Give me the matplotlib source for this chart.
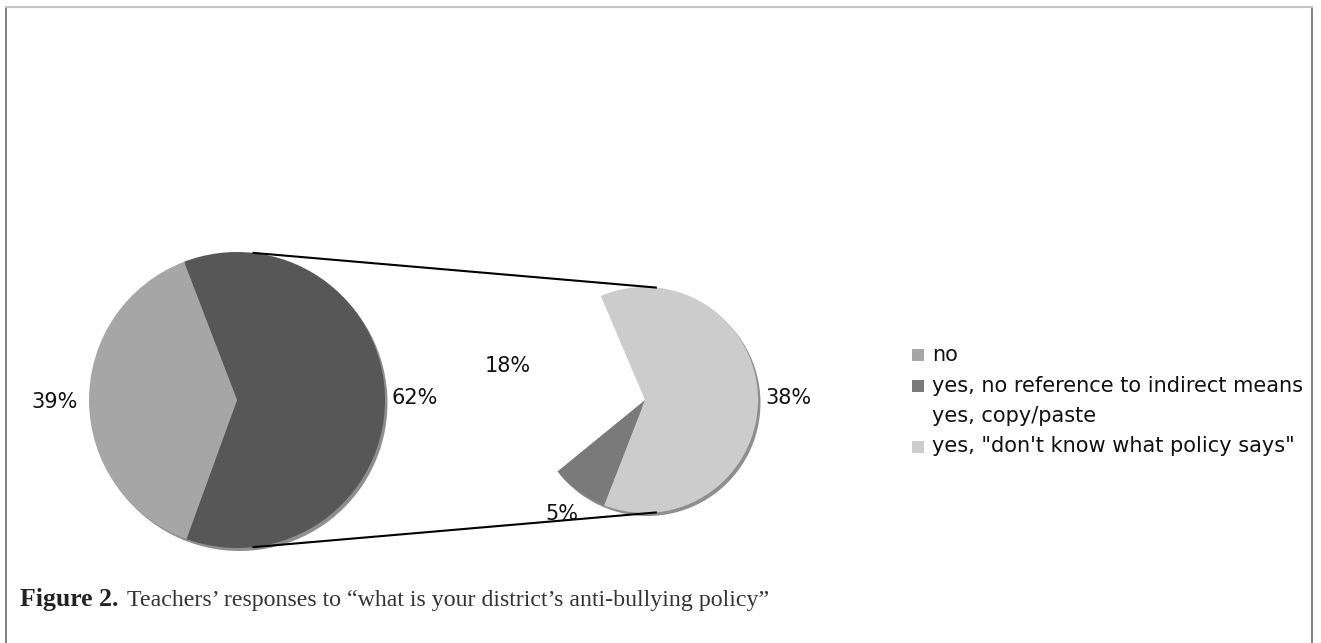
import numpy as np
import matplotlib.pyplot as plt
from matplotlib.patches import Rectangle

# overall answers: "yes" split further in the second pie
main_labels = ["yes", "no"]
main_values = [62, 39]
main_colors = ["#575757", "#a6a6a6"]

# breakdown of the "yes" answers
sub_labels = ["yes, \"don't know what policy says\"", "yes, no reference to indirect means", "yes, copy/paste"]
sub_values = [38, 5, 18]
sub_colors = ["#cccccc", "#7a7a7a", "none"]

legend_labels = ["no", "yes, no reference to indirect means", "yes, copy/paste",
                 "yes, \"don't know what policy says\""]
legend_colors = ["#a6a6a6", "#7a7a7a", "none", "#cccccc"]

caption_bold = "Figure 2."
caption_text = "Teachers\u2019 responses to \u201cwhat is your district\u2019s anti-bullying policy\u201d"

W, H = 1321, 643
fig = plt.figure(figsize=(W / 100, H / 100), dpi=100)
ax = fig.add_axes([0, 0, 1, 1])

left_c, left_r = (237, 243), 148
right_c, right_r = (645, 243), 113
shadow = "#8e8e8e"


def draw_pie(values, colors, center, radius, start, label_dist):
    # drop shadow slightly to the lower right
    sh_colors = [shadow if c != "none" else "none" for c in colors]
    ax.pie(values, colors=sh_colors, startangle=start, counterclock=False,
           center=(center[0] + 2.5, center[1] - 3), radius=radius,
           wedgeprops=dict(linewidth=0), frame=True)
    wedges, _ = ax.pie(values, colors=colors, startangle=start, counterclock=False,
                       center=center, radius=radius,
                       wedgeprops=dict(linewidth=0), frame=True)
    for w, v, d in zip(wedges, values, label_dist):
        mid = np.deg2rad((w.theta1 + w.theta2) / 2)
        ax.text(center[0] + d * radius * np.cos(mid), center[1] + d * radius * np.sin(mid),
                f"{v}%", ha="center", va="center", fontsize=15, color="#111111")
    return wedges


draw_pie(main_values, main_colors, left_c, left_r, 111, [1.20, 1.23])
draw_pie(sub_values, sub_colors, right_c, right_r, 113, [1.27, 1.25, 1.25])

# connector lines between the two pies
for a in (84, -84):
    t = np.deg2rad(a)
    ax.plot([left_c[0] + left_r * np.cos(t), right_c[0] + right_r * np.cos(t)],
            [left_c[1] + left_r * np.sin(t), right_c[1] + right_r * np.sin(t)],
            color="black", lw=1.5, zorder=3, solid_capstyle="butt")

# legend
for i, (lab, col) in enumerate(zip(legend_labels, legend_colors)):
    y = H - (355 + i * 30.5)
    if col != "none":
        ax.add_patch(Rectangle((912, y - 6), 12, 12, facecolor=col, edgecolor="none"))
    ax.text(932, y, lab, ha="left", va="center", fontsize=15, color="#111111")

# caption
ax.text(20, 37, caption_bold, fontsize=18.5, fontweight="bold",
        family="Liberation Serif", va="baseline", color="#222222")
ax.text(127, 37, caption_text, fontsize=17.2, family="Liberation Serif",
        va="baseline", color="#333333")

# frame around the figure
ax.plot([5.5, 5.5], [0, H - 6.5], color="#6a6a6a", lw=1.2)
ax.plot([1312, 1312], [0, H - 6.5], color="#6a6a6a", lw=1.2)
ax.plot([5.5, 1312], [H - 6.5, H - 6.5], color="#c4c4c4", lw=1.5)

ax.set_xlim(0, W)
ax.set_ylim(0, H)
ax.set_aspect("equal")
ax.axis("off")

fig.savefig("out.png", dpi=100)
